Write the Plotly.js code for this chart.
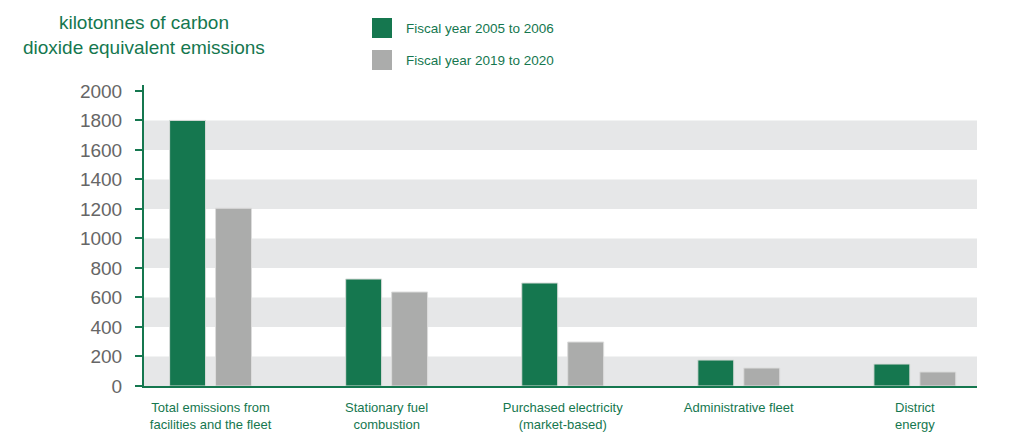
<!DOCTYPE html>
<html>
<head>
<meta charset="utf-8">
<script src="https://cdn.plot.ly/plotly-3.0.1.min.js"></script>
<style>html,body{margin:0;padding:0;background:#fff;} #chart{width:1009px;height:442px;}</style>
</head>
<body>
<div id="chart"></div>
<script>
var categories = ["Total emissions from<br>facilities and the fleet", "Stationary fuel<br>combustion", "Purchased electricity<br>(market-based)", "Administrative fleet", "District<br>energy"];
var fy2005 = [1800, 725, 698, 176, 149];
var fy2019 = [1205, 637, 298, 122, 95];
var seriesNames = ["Fiscal year 2005 to 2006", "Fiscal year 2019 to 2020"];
var yTicks = [0, 200, 400, 600, 800, 1000, 1200, 1400, 1600, 1800, 2000];

var GREEN = "#15774f";
var GRAY = "#abacab";
var BAND = "#e6e7e8";
var FONT = "Liberation Sans, Arial, sans-serif";

var xIdx = categories.map(function(_, i){ return i; });

var traces = [
  {type: "bar", x: xIdx, y: fy2005, name: seriesNames[0], marker: {color: GREEN, line: {color: "#d8dcd9", width: 1}}, hoverinfo: "y"},
  {type: "bar", x: xIdx, y: fy2019, name: seriesNames[1], marker: {color: GRAY, line: {color: "#dcdcdc", width: 1}}, hoverinfo: "y"}
];

var shapes = [];
for (var i = 0; i + 1 < yTicks.length; i += 2) {
  shapes.push({type: "rect", layer: "below", xref: "paper", yref: "y", x0: 0, x1: 1, y0: yTicks[i], y1: yTicks[i+1], fillcolor: BAND, line: {width: 0}});
}
var legendColors = [GREEN, GRAY];
var annotations = [
  {xref: "paper", yref: "paper", x: 0, y: (386-35)/301, xanchor: "center", yanchor: "middle",
   text: "kilotonnes of carbon<br>dioxide equivalent emissions", showarrow: false, align: "center",
   font: {family: FONT, size: 19, color: GREEN}}
];
for (var k = 0; k < 2; k++) {
  shapes.push({type: "rect", xref: "paper", yref: "paper", x0: (372-144)/833, x1: (392-144)/833, y0: (386-(38+k*32))/301, y1: (386-(18+k*32))/301, fillcolor: legendColors[k], line: {width: 0}});
  annotations.push({xref: "paper", yref: "paper", x: (404-144)/833, y: (386-(29+k*32))/301, xanchor: "left", yanchor: "middle", text: seriesNames[k], showarrow: false, font: {family: FONT, size: 13.5, color: GREEN}});
}

var layout = {
  width: 1009, height: 442,
  margin: {l: 144, r: 32, t: 85, b: 56},
  paper_bgcolor: "#fff", plot_bgcolor: "#fff",
  barmode: "group", bargap: 0.478, bargroupgap: 0.218,
  showlegend: false,
  xaxis: {
    tickmode: "array", tickvals: xIdx, ticktext: categories,
    range: [-0.378, 4.353], showgrid: false, zeroline: false,
    showline: true, linecolor: GREEN, linewidth: 2, ticks: "",
    tickfont: {family: FONT, size: 13, color: GREEN},
    ticklabelstandoff: 8, fixedrange: true
  },
  yaxis: {
    range: [0, 2040], tickmode: "array", tickvals: yTicks,
    showgrid: false, zeroline: false, showline: true, linecolor: GREEN, linewidth: 2,
    ticks: "outside", ticklen: 7, tickwidth: 2, tickcolor: GREEN,
    tickfont: {family: FONT, size: 19, color: "#666"},
    ticklabelstandoff: 9, fixedrange: true
  },
  shapes: shapes,
  annotations: annotations
};

Plotly.newPlot("chart", traces, layout, {displayModeBar: false, staticPlot: true});
</script>
</body>
</html>
